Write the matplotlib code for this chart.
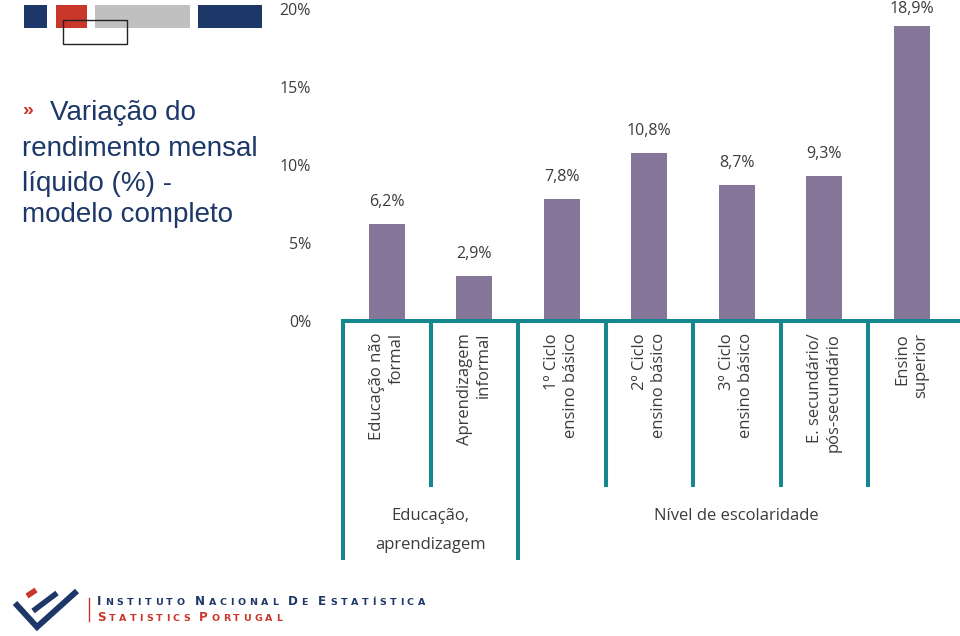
import matplotlib
matplotlib.use('Agg')
import matplotlib.pyplot as plt
from matplotlib.patches import Rectangle

# ---------------- data ----------------
categories = ["Educação não\nformal", "Aprendizagem\ninformal", "1º Ciclo\nensino básico",
              "2º Ciclo\nensino básico", "3º Ciclo\nensino básico",
              "E. secundário/\npós-secundário", "Ensino\nsuperior"]
values = [6.2, 2.9, 7.8, 10.8, 8.7, 9.3, 18.9]
value_labels = ["6,2%", "2,9%", "7,8%", "10,8%", "8,7%", "9,3%", "18,9%"]
ytick_values = [0, 5, 10, 15, 20]
ytick_labels = ["0%", "5%", "10%", "15%", "20%"]
group_names = ["Educação,\naprendizagem", "Nível de escolaridade"]
group_spans = [(0, 1), (2, 6)]
title_lines = ["Variação do", "rendimento mensal", "líquido (%) -", "modelo completo"]
logo_lines = ["INSTITUTO NACIONAL DE ESTATÍSTICA", "STATISTICS PORTUGAL"]

# ---------------- style ----------------
BAR = '#85769A'
TEAL = '#16878F'
TXT = '#3C3C3C'
NAVY = '#1D3868'
RED = '#C8372A'
GRAY = '#C0C0C0'
CFONT = ['Open Sans', 'DejaVu Sans']

W, H = 960, 636
fig = plt.figure(figsize=(W / 100, H / 100), dpi=100)
fig.patch.set_facecolor('white')

# overlay in pixel coordinates for slide decorations
ov = fig.add_axes([0, 0, 1, 1], zorder=0)
ov.set_xlim(0, W)
ov.set_ylim(H, 0)
ov.axis('off')

# top decorative blocks
for (x0, x1, c) in [(24, 47, NAVY), (56, 87, RED), (95, 190, GRAY), (198, 262, NAVY)]:
    ov.add_patch(Rectangle((x0, 5), x1 - x0, 23, facecolor=c, edgecolor='none'))
ov.add_patch(Rectangle((63, 20), 64, 24, facecolor='none', edgecolor='#222222', lw=1.0))

# title
ov.text(22, 111, "»", color=RED, fontsize=14, fontweight='bold', va='center', ha='left',
        family='Liberation Sans')
title_x = [50, 22, 22, 22]
title_y = [113, 149, 184, 215]
for t, x, y in zip(title_lines, title_x, title_y):
    ov.text(x, y, t, color=NAVY, fontsize=20, va='center', ha='left', family='Liberation Sans')

# ---------------- chart ----------------
px_per = (321 - 9) / 20.0
ymin = -(560 - 321) / px_per
ymax = 20
ax = fig.add_axes([343 / W, 1 - 560 / H, (955.5 - 343) / W, (560 - 9) / H], zorder=1)
ax.patch.set_alpha(0)
n = len(categories)
xs = list(range(n))
ax.bar(xs, values, width=0.41, color=BAR, zorder=2)
ax.set_xlim(-0.5, n - 0.5)
ax.set_ylim(ymin, ymax)
ax.set_yticks(ytick_values)
ax.set_yticklabels(ytick_labels, fontsize=11.5, color=TXT, family=CFONT)
ax.tick_params(axis='y', length=0, pad=23)
ax.set_xticks([])
for s in ax.spines.values():
    s.set_visible(False)

label_gap = 22 / px_per
for x, v, lbl in zip(xs, values, value_labels):
    ax.text(x, min(v + label_gap, ymax), lbl, ha='center', va='center', fontsize=11.5,
            color=TXT, family=CFONT)

# teal frame
lw = 2.9
short_bottom = -(487 - 321) / px_per
ax.plot([-0.5, n + 0.2], [0, 0], color=TEAL, lw=lw, clip_on=False, zorder=3,
        solid_capstyle='projecting')
group_edges = [g[0] - 0.5 for g in group_spans]
for b in [i + 0.5 for i in range(-1, n - 1)]:
    bottom = ymin if b in group_edges else short_bottom
    ax.plot([b, b], [0, bottom], color=TEAL, lw=lw, clip_on=False, zorder=3,
            solid_capstyle='butt')

# category labels
cat_top = -(333 - 321) / px_per
for x, c in zip(xs, categories):
    ax.text(x, cat_top, c, rotation=90, ha='center', va='top', multialignment='right',
            fontsize=12, linespacing=1.25, color=TXT, family=CFONT)

# group labels
line_y = [-(516 - 321) / px_per, -(545 - 321) / px_per]
for name, (a, b) in zip(group_names, group_spans):
    for k, part in enumerate(name.split("\n")):
        ax.text((a + b) / 2, line_y[k], part, ha='center', va='center', fontsize=12,
                color=TXT, family=CFONT)

# ---------------- logo ----------------
ov.plot([15, 37, 77], [603, 627, 591], color=NAVY, lw=4.3, solid_capstyle='butt',
        solid_joinstyle='miter')
ov.plot([33, 57], [611, 593], color=NAVY, lw=4.0, solid_capstyle='butt')
ov.plot([27, 36], [596, 590], color=RED, lw=4.0, solid_capstyle='butt')
ov.plot([89, 89], [598, 621], color=RED, lw=1.0)

fig.canvas.draw()
renderer = fig.canvas.get_renderer()


def small_caps(text, x0, x1, baseline, color, big=8.6, small=6.8):
    arts = []
    prev_space = True
    for ch in text:
        if ch == ' ':
            arts.append(None)
            prev_space = True
            continue
        size = big if prev_space else small
        prev_space = False
        t = ov.text(0, baseline, ch.upper(), fontsize=size, color=color, va='baseline',
                    ha='left', family='DejaVu Sans', fontweight='bold')
        arts.append(t)
    widths = []
    for a in arts:
        if a is None:
            widths.append(None)
        else:
            bb = a.get_window_extent(renderer)
            widths.append(bb.width)
    space_w = 3.0
    total = sum(w if w is not None else space_w for w in widths)
    gap = (x1 - x0 - total) / (len(arts) - 1)
    x = x0
    for a, w in zip(arts, widths):
        if a is None:
            x += space_w + gap
        else:
            a.set_x(x)
            x += w + gap


small_caps(logo_lines[0], 97, 425, 605, NAVY)
small_caps(logo_lines[1], 97, 282, 621, RED)

fig.savefig('out.png', dpi=100, facecolor='white')
